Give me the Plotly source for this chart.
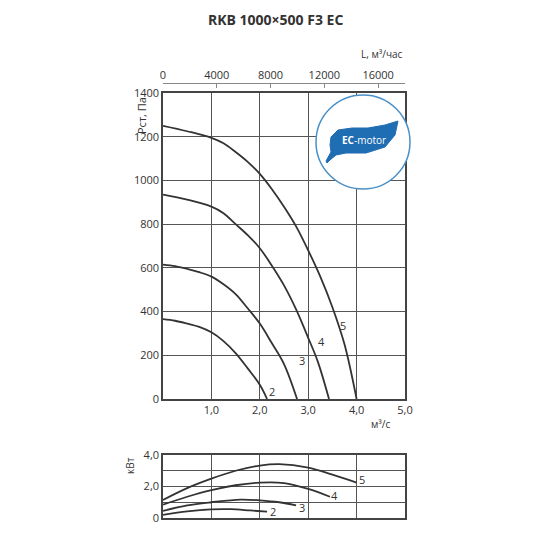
import plotly.graph_objects as go

# Pressure curves (Q m3/s, P Pa)
p5_x = [0, 0.5, 1.0, 1.25, 1.5, 1.75, 2.0, 2.25, 2.5, 2.75, 3.0, 3.25, 3.5, 3.75, 4.0]
p5_y = [1250, 1225, 1195, 1170, 1130, 1085, 1030, 960, 880, 790, 680, 560, 420, 250, 0]
p4_x = [0, 0.5, 1.0, 1.25, 1.5, 1.75, 2.0, 2.25, 2.5, 2.75, 3.0, 3.2, 3.43]
p4_y = [935, 912, 880, 850, 800, 750, 690, 610, 520, 410, 280, 170, 0]
p3_x = [0, 0.25, 0.5, 0.75, 1.0, 1.25, 1.5, 1.75, 2.0, 2.25, 2.5, 2.77]
p3_y = [615, 608, 595, 580, 560, 525, 480, 415, 345, 255, 160, 0]
p2_x = [0, 0.25, 0.5, 0.75, 1.0, 1.25, 1.5, 1.75, 2.0, 2.15]
p2_y = [365, 358, 345, 330, 305, 265, 210, 140, 65, 0]

# Power curves (Q m3/s, N kW)
n5_x = [0, 0.5, 1.0, 1.5, 2.0, 2.4, 3.0, 3.5, 4.0]
n5_y = [1.15, 1.9, 2.5, 3.0, 3.33, 3.42, 3.2, 2.75, 2.25]
n4_x = [0, 0.5, 1.0, 1.5, 2.0, 2.5, 3.0, 3.45]
n4_y = [0.85, 1.35, 1.77, 2.08, 2.25, 2.22, 1.85, 1.35]
n3_x = [0, 0.5, 1.0, 1.6, 2.0, 2.4, 2.75]
n3_y = [0.45, 0.8, 1.0, 1.17, 1.12, 1.0, 0.8]
n2_x = [0, 0.5, 1.0, 1.4, 1.8, 2.15]
n2_y = [0.2, 0.42, 0.55, 0.56, 0.48, 0.4]

curve_labels = ["2", "3", "4", "5"]
p_label_pos = [(2.25, 35), (2.87, 175), (3.27, 265), (3.72, 335)]
n_label_pos = [(2.27, 0.4), (2.87, 0.65), (3.55, 1.4), (4.12, 2.45)]

bottom_ticks = [1, 2, 3, 4, 5]
bottom_labels = ["1,0", "2,0", "3,0", "4,0", "5,0"]
top_ticks = [0, 4000, 8000, 12000, 16000]
top_labels = ["0", "4000", "8000", "12000", "16000"]

OFF = 8
def px(x): return (x - OFF) / 550
def py(y): return 1 - (y - OFF) / 550

LC = "#333333"
fig = go.Figure()
for xs, ys in [(p2_x, p2_y), (p3_x, p3_y), (p4_x, p4_y), (p5_x, p5_y)]:
    fig.add_trace(go.Scatter(x=xs, y=ys, mode="lines", line=dict(color=LC, width=1.8, shape="spline"),
                             xaxis="x", yaxis="y", showlegend=False))
for xs, ys in [(n2_x, n2_y), (n3_x, n3_y), (n4_x, n4_y), (n5_x, n5_y)]:
    fig.add_trace(go.Scatter(x=xs, y=ys, mode="lines", line=dict(color=LC, width=1.8, shape="spline"),
                             xaxis="x2", yaxis="y2", showlegend=False))
fig.add_trace(go.Scatter(x=[0, 18000], y=[0, 0], mode="lines", line=dict(width=0), opacity=0,
                         xaxis="x3", yaxis="y", showlegend=False, hoverinfo="skip"))

fnt = dict(family="Open Sans", size=11, color="#333")
grid = "#555555"
fig.update_layout(
    width=550, height=550, margin=dict(l=0, r=0, t=0, b=0, autoexpand=False),
    paper_bgcolor="white", plot_bgcolor="white", font=fnt,
    xaxis=dict(domain=[px(163), px(405)], range=[0, 5], tickvals=bottom_ticks, ticktext=bottom_labels,
               showgrid=True, gridcolor=grid, gridwidth=0.8, showline=True, linecolor="#444", linewidth=1.5,
               mirror=True, anchor="y", zeroline=False, ticks="", automargin=False),
    yaxis=dict(domain=[py(399), py(93)], range=[0, 1400], dtick=200, showgrid=True, gridcolor=grid,
               gridwidth=0.8, showline=True, linecolor="#444", linewidth=1.5, mirror=True, zeroline=False,
               anchor="x", ticks="", automargin=False),
    xaxis2=dict(domain=[px(163), px(405)], range=[0, 5], dtick=1, showticklabels=False, showgrid=True,
                gridcolor=grid, gridwidth=0.8, showline=True, linecolor="#444", linewidth=1.5, mirror=True,
                anchor="y2", zeroline=False, ticks="", automargin=False),
    yaxis2=dict(domain=[py(518), py(455)], range=[0, 4], tickvals=[0, 1, 2, 3, 4],
                ticktext=["0", "", "2,0", "", "4,0"], showgrid=True, gridcolor=grid, gridwidth=0.8,
                showline=True, linecolor="#444", linewidth=1.5, mirror=True, zeroline=False, anchor="x2",
                ticks="", automargin=False),
    xaxis3=dict(overlaying="x", side="top", anchor="free", position=py(83), range=[0, 18000],
                tickvals=top_ticks, ticktext=top_labels, showgrid=False, showline=True, linecolor="#888",
                linewidth=1, ticks="inside", ticklen=4, tickcolor="#888", zeroline=False, automargin=False),
)
for lab, (x, y) in zip(curve_labels, p_label_pos):
    fig.add_annotation(x=x, y=y, xref="x", yref="y", text=lab, showarrow=False, font=fnt)
for lab, (x, y) in zip(curve_labels, n_label_pos):
    fig.add_annotation(x=x, y=y, xref="x2", yref="y2", text=lab, showarrow=False, font=fnt)

fig.add_annotation(x=px(275), y=py(19), xref="paper", yref="paper", yanchor="middle",
                   text="<b>RKB 1000×500 F3 EC</b>",
                   showarrow=False, font=dict(family="Open Sans", size=14, color="#333"))
fig.add_annotation(x=px(405), y=py(45), xref="paper", yref="paper", xanchor="right", text="L, м³/час",
                   showarrow=False, font=dict(family="Open Sans", size=10, color="#333"))
fig.add_annotation(x=px(142), y=py(116), xref="paper", yref="paper", xanchor="center", yanchor="middle",
                   text="Pст, Па", textangle=-90,
                   showarrow=False, font=dict(family="Open Sans", size=11, color="#333"))
fig.add_annotation(x=px(392), y=py(433), xref="paper", yref="paper", text="м³/с",
                   showarrow=False, font=dict(family="Open Sans", size=10, color="#333"))
fig.add_annotation(x=px(130), y=py(466), xref="paper", yref="paper", xanchor="center", yanchor="middle",
                   text="кВт", textangle=-90,
                   showarrow=False, font=dict(family="Open Sans", size=10, color="#333"))

# EC-motor logo
fig.add_shape(type="circle", xref="paper", yref="paper", x0=px(316), x1=px(410), y0=py(189), y1=py(95),
              line=dict(color="#4a90c8", width=1.5), fillcolor="white")
pts = [(331, 137), (338, 130), (352, 128), (368, 128), (385, 125), (398, 121), (395, 135),
       (385, 147), (366, 153), (346, 153), (336, 155), (330, 160), (327, 163), (326, 161),
       (331, 152), (330, 145)]
path = f"M {px(pts[0][0])},{py(pts[0][1])} "
for (x, y) in pts[1:]:
    path += f"L {px(x)},{py(y)} "
path += "Z"
fig.add_shape(type="path", xref="paper", yref="paper", path=path, fillcolor="#1f6db3",
              line=dict(color="#1f6db3", width=1))
fig.add_annotation(x=px(364), y=py(140), xref="paper", yref="paper", xanchor="center", yanchor="middle",
                   text="<b>EC</b>-motor",
                   showarrow=False, font=dict(family="Open Sans", size=10, color="white"))

fig.write_html("out.html")
